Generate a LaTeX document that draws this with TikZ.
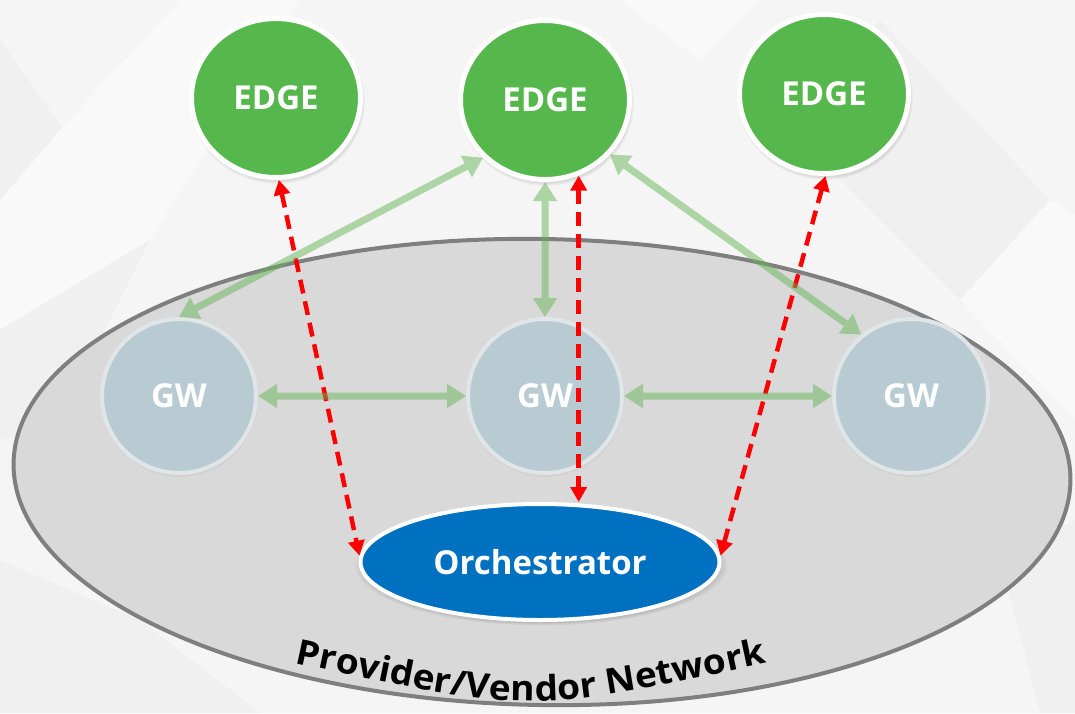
\documentclass[tikz,border=0pt]{standalone}
\usepackage{fontspec}
\setmainfont{Open Sans}
\newfontfamily\widefamily{Open Sans}[FakeStretch=1.06]
\usetikzlibrary{arrows.meta,shapes.geometric,shadows,decorations.text,fadings}

\definecolor{bg}{RGB}{245,245,245}
\definecolor{facetdark}{RGB}{240,240,240}
\definecolor{facetlight}{RGB}{249,249,249}
\definecolor{edgegreen}{RGB}{86,184,76}
\definecolor{gwfill}{RGB}{185,203,210}
\definecolor{gwring}{RGB}{224,229,231}
\definecolor{orchblue}{RGB}{0,112,192}
\definecolor{netfill}{RGB}{217,217,217}
\definecolor{netline}{RGB}{127,127,127}
\definecolor{linkgreen}{RGB}{100,180,85}
\definecolor{ctrlred}{RGB}{255,0,0}

\newcommand\nodefont{\bfseries\fontsize{33}{33}\selectfont}
\newcommand\netfont{\widefamily\bfseries\fontsize{35}{35}\selectfont}

\begin{document}
\begin{tikzpicture}[x=1pt,y=-1pt,
  softshadow/.style={circular drop shadow={shadow xshift=1pt, shadow yshift=-3pt,
      shadow scale=1.04, fill=black, opacity=0.35}},
  edgenode/.style={ellipse, fill=edgegreen, draw=white, line width=5pt,
      minimum width=169pt, minimum height=159pt, inner sep=0pt,
      text=white, font=\nodefont, softshadow},
  gwnode/.style={circle, fill=gwfill, draw=gwring, line width=4pt,
      minimum size=154pt, inner sep=0pt, text=white, font=\nodefont,
      circular drop shadow={shadow xshift=0pt, shadow yshift=-2pt,
      shadow scale=1.03, fill=black, opacity=0.18}},
  orchnode/.style={ellipse, fill=orchblue, draw=white, line width=4pt,
      minimum width=359pt, minimum height=116pt, inner sep=0pt,
      text=white, font=\nodefont, softshadow},
  netnode/.style={ellipse, fill=netfill, draw=netline, line width=4pt,
      minimum width=1057pt, minimum height=466pt, inner sep=0pt},
  peerlink/.style={draw=linkgreen, fill=linkgreen, line width=7pt,
      {Triangle[length=19pt,width=23pt]}-{Triangle[length=19pt,width=23pt]}},
  ctrllink/.style={draw=ctrlred, line width=4.5pt, dash pattern=on 14pt off 8pt,
      {Triangle[length=15pt,width=16pt]}-{Triangle[length=15pt,width=16pt]}}
]

% canvas and faint faceted backdrop
\fill[bg] (0,0) rectangle (1075,713);
\useasboundingbox (0,0) rectangle (1075,713);
\fill[facetdark] (0,40) -- (62,128) -- (0,200) -- cycle;
\fill[facetlight] (0,200) -- (62,128) -- (150,240) -- (0,330) -- cycle;
\fill[facetdark] (0,330) -- (150,240) -- (60,420) -- (0,440) -- cycle;
\fill[facetlight] (62,128) -- (180,0) -- (300,0) -- (150,240) -- cycle;
\fill[facetdark] (880,20) -- (1050,200) -- (960,300) -- (790,130) -- cycle;
\fill[facetlight] (1050,200) -- (1075,215) -- (1075,420) -- (960,300) -- cycle;
\fill[facetdark] (1000,560) -- (1075,520) -- (1075,713) -- (1040,713) -- cycle;
\fill[facetdark] (0,560) -- (140,620) -- (260,713) -- (0,713) -- cycle;
\fill[facetlight] (620,0) -- (760,0) -- (700,60) -- cycle;

% provider network area
\node[netnode, rotate=-1] (net) at (542,472) {};
\path[decorate, decoration={text along path, text align=center,
      text={|\netfont|Provider/Vendor Network}}]
  (290,662) .. controls (530,714) .. (772,662);

% edge sites
\node[edgenode] (edgeL) at (276,98) {EDGE};
\node[edgenode] (edgeM) at (545,100) {EDGE};
\node[edgenode] (edgeR) at (824,94) {EDGE};

% gateways
\node[gwnode] (gwL) at (179,396) {GW};
\node[gwnode] (gwM) at (545,396) {GW};
\node[gwnode] (gwR) at (911,396) {GW};

% orchestrator
\node[orchnode] (orch) at (540,562) {Orchestrator};

% control-plane links
\draw[ctrllink] (edgeL.272) -- (orch.178);
\draw[ctrllink] (edgeM.294) -- (edgeM.294 |- orch.north);
\draw[ctrllink] (edgeR.271) -- (orch.2);

% data-plane links, translucent as one group
\begin{scope}[transparency group, opacity=0.5]
\draw[peerlink] (gwL.90) -- (edgeM.223);
\draw[peerlink] (edgeM.270) -- (gwM.90);
\draw[peerlink] (edgeM.320) -- (gwR.129);
\draw[peerlink] (gwL.0) -- (gwM.180);
\draw[peerlink] (gwM.0) -- (gwR.180);
\end{scope}

\end{tikzpicture}
\end{document}
